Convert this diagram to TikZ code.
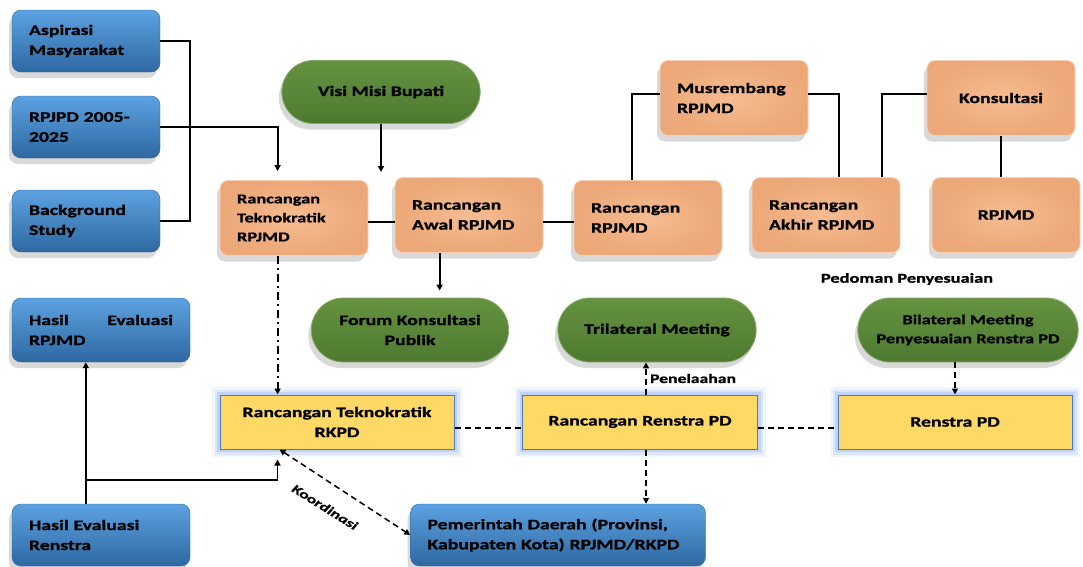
\documentclass[tikz,border=0pt]{standalone}
\usepackage{fontspec}
\setmainfont{Carlito}[FakeStretch=1.36,BoldFont={Carlito Bold},BoldItalicFont={Carlito Bold Italic},
  BoldFeatures={FakeBold=1.2},BoldItalicFeatures={FakeBold=1}]
\usetikzlibrary{arrows.meta,shapes.misc,shadows}
\definecolor{bluetop}{RGB}{92,162,224}
\definecolor{bluebot}{RGB}{46,104,162}
\definecolor{blueedge}{RGB}{50,100,155}
\definecolor{orafill}{RGB}{236,168,120}
\definecolor{oralight}{RGB}{246,188,145}
\definecolor{greentop}{RGB}{100,146,64}
\definecolor{greenbot}{RGB}{78,122,48}
\definecolor{yelfill}{RGB}{255,217,102}
\definecolor{yeledge}{RGB}{80,120,190}
\definecolor{glow}{RGB}{140,175,240}
\begin{document}
\begin{tikzpicture}[x=1pt,y=-1pt,
  txt/.style={font=\fontsize{14.5}{20}\selectfont\bfseries},
  smalltxt/.style={font=\fontsize{13.5}{19}\selectfont\bfseries},
  shad/.style={drop shadow={shadow xshift=-3pt,shadow yshift=-6pt,opacity=.3}},
  blbox/.style={txt,shad,rounded corners=9pt,top color=bluetop,bottom color=bluebot,
    draw=blueedge,align=left,inner xsep=17pt,minimum height=62pt},
  orbox/.style={txt,shad,rounded corners=8pt,inner color=oralight,outer color=orafill,
    draw=oralight!70!white,line width=.8pt,
    align=left,text width=114pt,inner xsep=17pt,minimum height=75pt},
  grbox/.style={txt,shad,rounded rectangle,top color=greentop,bottom color=greenbot,
    draw=greentop!80!white,line width=.8pt,
    align=center,minimum width=205pt,minimum height=63pt},
  ylbox/.style={txt,fill=yelfill,draw=yeledge,line width=1pt,align=center,
    minimum width=234pt,minimum height=54pt,
    preaction={draw=glow,line width=16pt,opacity=.12,rounded corners=6pt},
    preaction={draw=glow,line width=11pt,opacity=.2,rounded corners=4pt},
    preaction={draw=glow,line width=6pt,opacity=.35}},
  conn/.style={line width=2.2pt},
  arr/.style={line width=1.8pt,-{Triangle[length=6pt,width=6pt]}},
  dsh/.style={line width=1.5pt,dash pattern=on 6pt off 4pt},
]
\useasboundingbox (0,0) rectangle (1083,566);

% kotak biru
\node[blbox,text width=114pt] (asp) at (86,41) {Aspirasi\\Masyarakat};
\node[blbox,text width=114pt] (rpjpd) at (86,127) {RPJPD 2005-\\2025};
\node[blbox,text width=114pt] (bgs) at (86,221) {Background\\Study};
\node[blbox,text width=144pt,minimum height=64pt] (hrp) at (101,330) {\hbox to 144pt{Hasil\hfil Evaluasi}\\RPJMD};
\node[blbox,text width=144pt] (hren) at (101,535) {Hasil Evaluasi\\Renstra};
\node[blbox,text width=261pt] (pemda) at (558,535) {Pemerintah Daerah (Provinsi,\\Kabupaten Kota) RPJMD/RKPD};

% kotak oranye
\node[orbox,smalltxt] (tek) at (294,218) {Rancangan\\Teknokratik\\RPJMD};
\node[orbox] (awal) at (469,215) {Rancangan\\Awal RPJMD};
\node[orbox] (rrp) at (648,218) {Rancangan\\RPJMD};
\node[orbox] (musr) at (734,98) {Musrembang\\RPJMD};
\node[orbox] (akhir) at (826,215) {Rancangan\\Akhir RPJMD};
\node[orbox,align=center] (kons) at (1001,98) {Konsultasi};
\node[orbox,align=center] (rpjmd) at (1006,215) {RPJMD};

% kotak hijau
\node[grbox] (visi) at (381,92) {Visi Misi Bupati};
\node[grbox,minimum width=204pt,minimum height=64pt] (forum) at (410,330) {Forum Konsultasi\\Publik};
\node[grbox,minimum height=64pt] (tri) at (657,330) {Trilateral Meeting};
\node[grbox,smalltxt,minimum width=227pt,minimum height=64pt] (bil) at (968,330) {Bilateral Meeting\\Penyesuaian Renstra PD};
\node[smalltxt] (ped) at (907,279) {Pedoman Penyesuaian};

% kotak kuning
\node[ylbox] (rkpd) at (337,422) {Rancangan Teknokratik\\RKPD};
\node[ylbox,minimum width=235pt] (ren) at (640,422) {Rancangan Renstra PD};
\node[ylbox] (rpd) at (955,422) {Renstra PD};

% garis
\coordinate (jn) at (190,130);
\coordinate (vend) at (381,172);
\coordinate (jk) at (86,480);
\draw[conn] (asp.east) -| (jn) |- (bgs.east);
\draw[arr] (rpjpd.east) -| ([xshift=58pt,yshift=9pt]tek.north west);
\draw[arr] (visi.south) -- (vend);
\draw[conn] ([yshift=-4pt]tek.east) -- ([yshift=-4pt]tek.east -| awal.west);
\draw[conn] ([yshift=-7pt]awal.east) -- ([yshift=-7pt]awal.east -| rrp.west);
\draw[conn] ([xshift=58pt]rrp.north west) |- ([yshift=4pt]musr.west);
\draw[conn] ([yshift=4pt]musr.east) -| ([xshift=87pt]akhir.north west);
\draw[conn] ([xshift=130pt]akhir.north west) |- ([yshift=4pt]kons.west);
\draw[conn] (kons.south) -- (kons.south |- rpjmd.north);
\draw[arr,shorten >=7pt] ([xshift=45pt]awal.south west) -- ([xshift=45pt]awal.south west |- forum.north);
\draw[arr,line width=2pt,dash pattern=on 8pt off 4pt on 2pt off 4pt]
  ([xshift=58pt]tek.south west) -- ([xshift=58pt]tek.south west |- rkpd.north);
\foreach \a/\b in {rkpd/ren,ren/rpd}
  \draw[dsh] ([yshift=-6pt]\a.east) -- ([yshift=-6pt]\a.east -| \b.west);
\draw[arr,dsh] ([xshift=124pt]ren.north west) -- ([xshift=124pt]ren.north west |- tri.south)
  node[midway,right,font=\fontsize{13}{16}\selectfont\bfseries] {Penelaahan};
\draw[arr,dsh] ([xshift=124pt]ren.south west) -- ([xshift=124pt]ren.south west |- pemda.north);
\draw[arr,dsh] (rpd.north |- bil.south) -- (rpd.north);
\draw[dsh,{Triangle[length=6pt,width=6pt]}-{Triangle[length=6pt,width=6pt]}] ([xshift=60pt]rkpd.south west) -- (pemda.west);
\node[rotate=-32,font=\fontsize{12.5}{15}\selectfont\bfseries\itshape] (koor) at (325,507) {Koordinasi};
\draw[arr] ([xshift=74pt]hren.north west) -- ([xshift=74pt]hren.north west |- hrp.south);
\draw[arr,shorten >=10pt] (jk) -| ([xshift=58pt]rkpd.south west);
\end{tikzpicture}
\end{document}
